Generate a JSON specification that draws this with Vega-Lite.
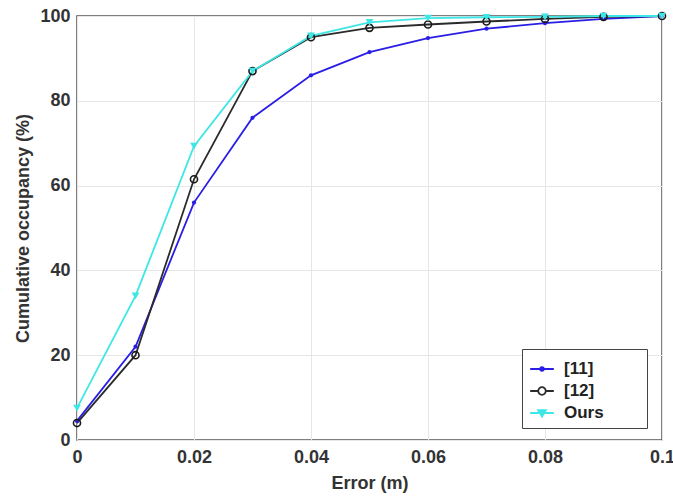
{
  "$schema": "https://vega.github.io/schema/vega-lite/v6.json",
  "width": 585,
  "height": 424,
  "autosize": {"type": "none"},
  "padding": {"left": 77, "top": 16, "right": 11, "bottom": 58},
  "background": "white",
  "config": {
    "view": {"stroke": "#555555", "strokeWidth": 1.5},
    "font": "Liberation Sans",
    "axis": {
      "labelFont": "Liberation Sans",
      "labelFontWeight": "bold",
      "labelFontSize": 18,
      "labelColor": "#333333",
      "titleFont": "Liberation Sans",
      "titleFontWeight": "bold",
      "titleFontSize": 18,
      "titleColor": "#333333",
      "gridColor": "#e6e6e6",
      "gridWidth": 1,
      "domain": false,
      "ticks": false
    }
  },
  "data": {
    "values": [
      {"error": 0.00, "series": "[11]", "occ": 4.5},
      {"error": 0.01, "series": "[11]", "occ": 22},
      {"error": 0.02, "series": "[11]", "occ": 56},
      {"error": 0.03, "series": "[11]", "occ": 76},
      {"error": 0.04, "series": "[11]", "occ": 86},
      {"error": 0.05, "series": "[11]", "occ": 91.5},
      {"error": 0.06, "series": "[11]", "occ": 94.8},
      {"error": 0.07, "series": "[11]", "occ": 97},
      {"error": 0.08, "series": "[11]", "occ": 98.3},
      {"error": 0.09, "series": "[11]", "occ": 99.3},
      {"error": 0.10, "series": "[11]", "occ": 100},
      {"error": 0.00, "series": "[12]", "occ": 4},
      {"error": 0.01, "series": "[12]", "occ": 20},
      {"error": 0.02, "series": "[12]", "occ": 61.5},
      {"error": 0.03, "series": "[12]", "occ": 87},
      {"error": 0.04, "series": "[12]", "occ": 95},
      {"error": 0.05, "series": "[12]", "occ": 97.2},
      {"error": 0.06, "series": "[12]", "occ": 98},
      {"error": 0.07, "series": "[12]", "occ": 98.7},
      {"error": 0.08, "series": "[12]", "occ": 99.3},
      {"error": 0.09, "series": "[12]", "occ": 99.8},
      {"error": 0.10, "series": "[12]", "occ": 100},
      {"error": 0.00, "series": "Ours", "occ": 7.5},
      {"error": 0.01, "series": "Ours", "occ": 34},
      {"error": 0.02, "series": "Ours", "occ": 69.3},
      {"error": 0.03, "series": "Ours", "occ": 87},
      {"error": 0.04, "series": "Ours", "occ": 95.3},
      {"error": 0.05, "series": "Ours", "occ": 98.5},
      {"error": 0.06, "series": "Ours", "occ": 99.5},
      {"error": 0.07, "series": "Ours", "occ": 99.7},
      {"error": 0.08, "series": "Ours", "occ": 99.8},
      {"error": 0.09, "series": "Ours", "occ": 100},
      {"error": 0.10, "series": "Ours", "occ": 100}
    ]
  },
  "encoding": {
    "x": {
      "field": "error", "type": "quantitative", "title": "Error (m)",
      "scale": {"domain": [0, 0.1], "nice": false},
      "axis": {"values": [0, 0.02, 0.04, 0.06, 0.08, 0.1], "format": "~g", "labelPadding": 8, "titlePadding": 8, "labelFlush": false}
    },
    "y": {
      "field": "occ", "type": "quantitative", "title": "Cumulative occupancy (%)",
      "scale": {"domain": [0, 100], "nice": false},
      "axis": {"values": [0, 20, 40, 60, 80, 100], "labelPadding": 7, "titlePadding": 7}
    }
  },
  "layer": [
    {
      "mark": {"type": "line", "strokeWidth": 1.8},
      "encoding": {
        "color": {
          "field": "series", "type": "nominal",
          "scale": {"domain": ["[11]", "[12]", "Ours"], "range": ["#2a1ee6", "#2b2b2b", "#3ee6e6"]},
          "legend": {
            "orient": "none", "legendX": 445, "legendY": 333,
            "title": null,
            "fillColor": "white", "strokeColor": "#444444",
            "padding": 7, "rowPadding": 1,
            "symbolType": "stroke",
            "symbolSize": 560, "symbolStrokeWidth": 1.8,
            "labelFont": "Liberation Sans", "labelFontWeight": "bold", "labelFontSize": 17, "labelColor": "#222222",
            "labelOffset": 9,
            "encode": {
              "labels": {
                "update": {
                  "text": {"signal": "datum.label + '\u2800\u2800\u2800'"}
                }
              },
              "symbols": {
                "update": {
                  "shape": {"signal": "datum.value === '[12]' ? 'M-1,0H-0.32M0.32,0H1M-0.32,0A0.32,0.32 0 1,1 0.32,0A0.32,0.32 0 1,1 -0.32,0Z' : (datum.value === '[11]' ? 'M-1,0H1M-0.15,0A0.15,0.15 0 1,1 0.15,0A0.15,0.15 0 1,1 -0.15,0Z' : 'M-1,0H1M-0.33,-0.25L0.33,-0.25L0,0.3Z')"},
                  "fill": {"signal": "datum.value === '[12]' ? 'white' : (datum.value === '[11]' ? '#2a1ee6' : '#3ee6e6')"},
                  "fillOpacity": {"value": 1}
                }
              }
            }
          }
        }
      }
    },
    {
      "transform": [{"filter": "datum.series === '[11]'"}],
      "mark": {"type": "point", "shape": "circle", "filled": true, "size": 18, "color": "#2a1ee6", "opacity": 1}
    },
    {
      "transform": [{"filter": "datum.series === '[12]'"}],
      "mark": {"type": "point", "shape": "circle", "filled": false, "size": 50, "color": "#1a1a1a", "strokeWidth": 1.6, "opacity": 1}
    },
    {
      "transform": [{"filter": "datum.series === 'Ours'"}],
      "mark": {"type": "point", "shape": "triangle-down", "filled": true, "size": 60, "color": "#3ee6e6", "opacity": 1}
    }
  ]
}
